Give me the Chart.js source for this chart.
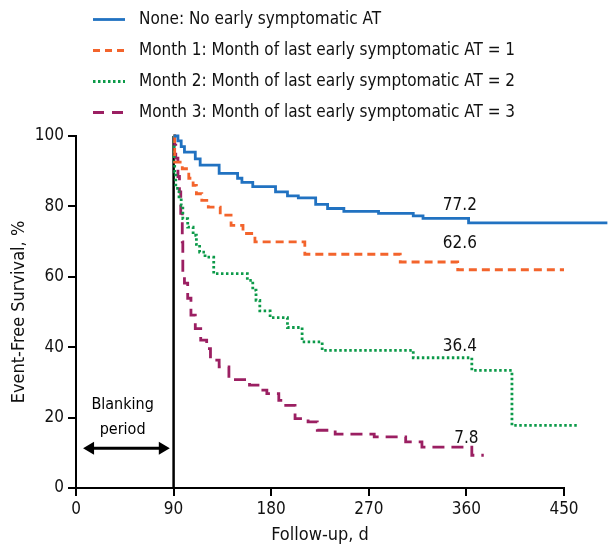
<!DOCTYPE html>
<html>
<head>
<meta charset="utf-8">
<title>Event-free survival by month of last early symptomatic AT</title>
<script src="https://cdn.jsdelivr.net/npm/chart.js@4.4.0/dist/chart.umd.min.js"></script>
<style>
  body { margin: 0; background: #ffffff; }
  canvas { display: block; }
</style>
</head>
<body>
<canvas id="myChart" width="608" height="546"></canvas>
<script>
// series names
var seriesLabels = [
    'None: No early symptomatic AT',
    'Month 1: Month of last early symptomatic AT = 1',
    'Month 2: Month of last early symptomatic AT = 2',
    'Month 3: Month of last early symptomatic AT = 3'
];

// Kaplan-Meier steps (day, event-free survival %)
var noneDays     = [90, 94, 97, 100, 110, 114.5, 132, 149, 153, 163, 184, 195, 205, 221, 232, 247, 279, 311, 320, 362, 490];
var noneSurvival = [100, 98.6, 97.0, 95.4, 93.5, 91.7, 89.4, 88.0, 86.8, 85.6, 84.1, 83.0, 82.4, 80.6, 79.4, 78.6, 78.0, 77.3, 76.6, 75.3, 75.3];

var month1Days     = [90, 91, 98, 104, 108, 111, 116, 122, 133, 143, 154, 165, 211, 299, 352, 450];
var month1Survival = [100, 92.6, 90.7, 88.0, 86.0, 83.6, 81.7, 79.8, 77.5, 74.6, 72.3, 69.9, 66.4, 64.2, 62.0, 62.0];

var month2Days     = [90, 90.5, 91, 92, 95, 97, 98.5, 103, 108, 111, 114, 119, 127, 158, 163, 166, 169.5, 179, 195, 208.5, 227, 311, 365, 402, 463];
var month2Survival = [100, 92.2, 89.8, 85.1, 82.7, 80.3, 76.5, 74.1, 71.8, 69.2, 67.0, 65.6, 60.9, 59.0, 56.2, 53.3, 50.3, 48.4, 45.6, 41.5, 39.1, 37.0, 33.4, 17.8, 17.8];

var month3Days     = [90, 91, 92, 94, 95.4, 96.6, 98, 98.5, 100, 103, 106, 110, 115, 120.5, 124, 132, 141, 160, 169.5, 176, 187, 191.5, 202, 214, 222.5, 239, 275, 304, 319, 365, 376];
var month3Survival = [100, 97.4, 93.7, 88.5, 84.1, 78.0, 69.9, 61.0, 58.2, 53.9, 49.1, 45.3, 42.0, 39.6, 36.3, 34.4, 30.8, 29.2, 27.8, 26.8, 24.9, 23.5, 19.7, 18.8, 16.4, 15.3, 14.5, 13.1, 11.6, 9.3, 9.3];

// printed survival at 1 year
var endLabels = ['77.2', '62.6', '36.4', '7.8'];

var xTicks = [0, 90, 180, 270, 360, 450];
var yTicks = [0, 20, 40, 60, 80, 100];
var blankingEnd = 90;

var FONT = '"Liberation Sans Narrow", "DejaVu Sans Condensed", "Arial Narrow", sans-serif';
var colors = ['#2172c1', '#f3642c', '#0c9a49', '#9b1f62'];
var dashes = [[], [8, 5], [2.5, 2.5], [12, 7]];
var legendDashes = [[], [7, 5], [2.5, 2.5], [11, 8]];

// where the 1-year numbers sit (in data units)
var endLabelPos = [[354, 80.3], [354, 69.4], [354, 40.3], [360, 14.1]];

function toPoints(days, vals) {
    var pts = [];
    for (var i = 0; i < days.length; i++) {
        pts.push({ x: days[i], y: vals[i] });
    }
    return pts;
}

var allDays = [noneDays, month1Days, month2Days, month3Days];
var allVals = [noneSurvival, month1Survival, month2Survival, month3Survival];

var datasets = [];
for (var i = 0; i < seriesLabels.length; i++) {
    datasets.push({
        label: seriesLabels[i],
        data: toPoints(allDays[i], allVals[i]),
        borderColor: colors[i],
        backgroundColor: colors[i],
        borderWidth: 2.8,
        borderDash: dashes[i],
        borderCapStyle: 'butt',
        stepped: 'before',
        pointRadius: 0,
        fill: false,
        clip: false
    });
}

function arrowHead(ctx, x, y, dir) {
    ctx.beginPath();
    ctx.moveTo(x, y);
    ctx.lineTo(x - dir * 11, y - 6.5);
    ctx.lineTo(x - dir * 11, y + 6.5);
    ctx.closePath();
    ctx.fill();
}

var overlay = {
    id: 'overlay',
    beforeDatasetsDraw: function (chart) {
        var ctx = chart.ctx;
        var xs = chart.scales.x, ys = chart.scales.y;
        var x = xs.getPixelForValue(blankingEnd);
        ctx.save();
        ctx.strokeStyle = '#000';
        ctx.lineWidth = 2.5;
        ctx.beginPath();
        ctx.moveTo(x, ys.getPixelForValue(0));
        ctx.lineTo(x, ys.getPixelForValue(100));
        ctx.stroke();

        // blanking period note
        ctx.fillStyle = '#000';
        ctx.font = '16px ' + FONT;
        ctx.textAlign = 'center';
        ctx.textBaseline = 'middle';
        var cx = xs.getPixelForValue(43);
        ctx.fillText('Blanking', cx, ys.getPixelForValue(23.5));
        ctx.fillText('period', cx, ys.getPixelForValue(16.4));
        var ay = ys.getPixelForValue(11.3);
        var x1 = xs.getPixelForValue(6.5), x2 = xs.getPixelForValue(86.5);
        ctx.lineWidth = 3;
        ctx.beginPath();
        ctx.moveTo(x1 + 6, ay);
        ctx.lineTo(x2 - 6, ay);
        ctx.stroke();
        arrowHead(ctx, x1, ay, -1);
        arrowHead(ctx, x2, ay, 1);
        ctx.restore();
    },
    afterDatasetsDraw: function (chart) {
        var ctx = chart.ctx;
        var xs = chart.scales.x, ys = chart.scales.y;
        ctx.save();
        ctx.fillStyle = '#111';
        ctx.font = '17px ' + FONT;
        ctx.textAlign = 'center';
        ctx.textBaseline = 'middle';
        for (var i = 0; i < endLabels.length; i++) {
            ctx.fillText(endLabels[i], xs.getPixelForValue(endLabelPos[i][0]), ys.getPixelForValue(endLabelPos[i][1]));
        }

        // legend, one entry per row
        ctx.textAlign = 'left';
        for (var j = 0; j < seriesLabels.length; j++) {
            var ly = 19.5 + j * 31;
            ctx.strokeStyle = colors[j];
            ctx.lineWidth = 2.8;
            ctx.setLineDash(legendDashes[j]);
            ctx.beginPath();
            ctx.moveTo(93, ly);
            ctx.lineTo(125, ly);
            ctx.stroke();
            ctx.setLineDash([]);
            ctx.fillStyle = '#111';
            ctx.fillText(seriesLabels[j], 139, ly);
        }
        ctx.restore();
    }
};

var ctx = document.getElementById('myChart').getContext('2d');
var myChart = new Chart(ctx, {
    type: 'line',
    data: { datasets: datasets },
    plugins: [overlay],
    options: {
        responsive: false,
        animation: false,
        layout: { padding: { top: 136, right: 44, left: 0, bottom: 0 } },
        plugins: {
            legend: { display: false },
            tooltip: { enabled: false }
        },
        scales: {
            x: {
                type: 'linear',
                min: 0,
                max: 450,
                afterBuildTicks: function (scale) {
                    scale.ticks = xTicks.map(function (v) { return { value: v }; });
                },
                afterFit: function (scale) { scale.height = 58; },
                grid: { drawOnChartArea: false, color: '#000', lineWidth: 2, tickLength: 8 },
                border: { color: '#000', width: 2 },
                ticks: { color: '#111', padding: 3, font: { family: FONT, size: 17 } },
                title: {
                    display: true,
                    text: 'Follow-up, d',
                    color: '#111',
                    padding: { top: 0, bottom: 0 },
                    font: { family: FONT, size: 18 }
                }
            },
            y: {
                min: 0,
                max: 100,
                afterBuildTicks: function (scale) {
                    scale.ticks = yTicks.map(function (v) { return { value: v }; });
                },
                afterFit: function (scale) { scale.width = 76; },
                grid: { drawOnChartArea: false, color: '#000', lineWidth: 2, tickLength: 8 },
                border: { color: '#000', width: 2 },
                ticks: { color: '#111', padding: 4, font: { family: FONT, size: 17 } },
                title: {
                    display: true,
                    text: 'Event-Free Survival, %',
                    color: '#111',
                    padding: { top: 9, bottom: 0 },
                    font: { family: FONT, size: 18 }
                }
            }
        }
    }
});
</script>
</body>
</html>
